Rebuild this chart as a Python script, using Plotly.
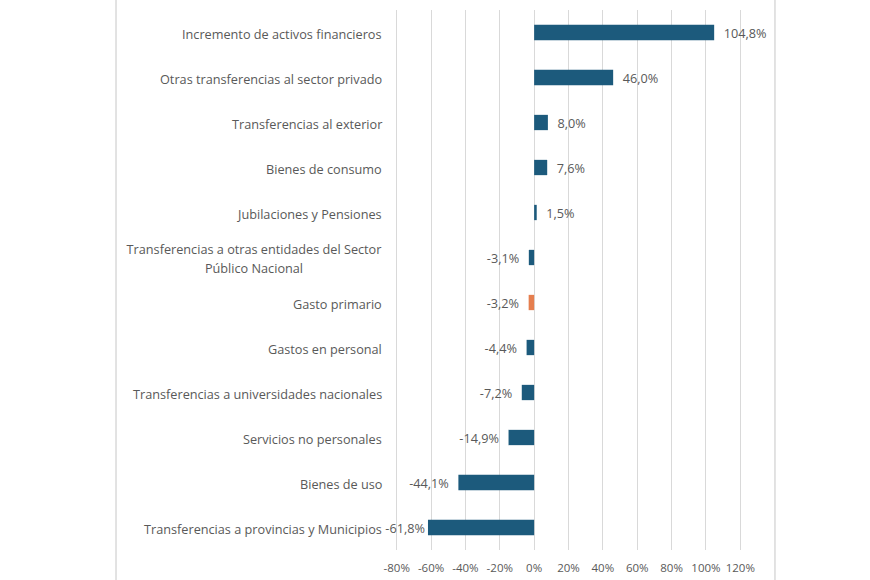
import plotly.graph_objects as go

categories = [
    "Incremento de activos financieros",
    "Otras transferencias al sector privado",
    "Transferencias al exterior",
    "Bienes de consumo",
    "Jubilaciones y Pensiones",
    "Transferencias a otras entidades del Sector<br>Público Nacional",
    "Gasto primario",
    "Gastos en personal",
    "Transferencias a universidades nacionales",
    "Servicios no personales",
    "Bienes de uso",
    "Transferencias a provincias y Municipios",
]
values = [104.8, 46.0, 8.0, 7.6, 1.5, -3.1, -3.2, -4.4, -7.2, -14.9, -44.1, -61.8]
highlight = "Gasto primario"
tick_vals = [-80, -60, -40, -20, 0, 20, 40, 60, 80, 100, 120]
tick_text = [f"{v}%" for v in tick_vals]

BLUE = "#1c5a7c"
ORANGE = "#e57e4e"
TXT = "#595959"
GRID = "#d9d9d9"
FONT = "Open Sans"
FS = 12.7

ids = list(range(len(categories)))
colors = [ORANGE if c == highlight else BLUE for c in categories]
nb = "\u00a0"
# label spacing from bar end (the last label is squeezed against its bar, as in the source)
label_pad = [2, 2, 2, 2, 2, 2, 2, 2, 2, 2, 2, 0]
labels = []
for v, p in zip(values, label_pad):
    s = f"{v:.1f}%".replace(".", ",")
    labels.append(nb * p + s if v >= 0 else s + nb * p)

fig = go.Figure(
    go.Bar(
        x=values,
        y=ids,
        orientation="h",
        marker=dict(color=colors, line=dict(width=0)),
        width=0.34,
        text=labels,
        textposition="outside",
        textfont=dict(family=FONT, size=FS, color=TXT),
        cliponaxis=False,
        constraintext="none",
        hoverinfo="skip",
    )
)

annotations = []
for i, c in zip(ids, categories):
    lines = c.split("<br>")
    if len(lines) == 1:
        annotations.append(
            dict(
                x=0, xref="paper", xanchor="right", xshift=-11,
                y=i, yref="y", yanchor="middle", yshift=-1,
                text=c, showarrow=False, align="right",
                font=dict(family=FONT, size=FS, color=TXT),
            )
        )
    else:
        n = len(lines)
        for k, ln in enumerate(lines):
            annotations.append(
                dict(
                    x=0, xref="paper", xanchor="right", xshift=-11,
                    y=i, yref="y", yanchor="middle",
                    yshift=(n - 1) / 2 * 19 - k * 19 - 1,
                    width=256,
                    text=ln, showarrow=False, align="center",
                    font=dict(family=FONT, size=FS, color=TXT),
                )
            )

fig.update_layout(
    width=870,
    height=580,
    margin=dict(l=395, r=128, t=10, b=30, autoexpand=False),
    paper_bgcolor="white",
    plot_bgcolor="white",
    showlegend=False,
    annotations=annotations,
    shapes=[
        dict(type="line", xref="paper", yref="paper", x0=-0.804, x1=-0.804, y0=-0.1, y1=1.05,
             line=dict(color=GRID, width=1.5)),
        dict(type="line", xref="paper", yref="paper", x0=1.095, x1=1.095, y0=-0.1, y1=1.05,
             line=dict(color=GRID, width=1.5)),
    ],
    xaxis=dict(
        range=[-81, 121],
        tickvals=tick_vals,
        ticktext=tick_text,
        showgrid=True,
        gridcolor=GRID,
        gridwidth=1,
        zeroline=False,
        showline=False,
        ticks="",
        ticklabelstandoff=9,
        automargin=False,
        tickfont=dict(family=FONT, size=11.5, color=TXT),
        fixedrange=True,
    ),
    yaxis=dict(
        range=[len(categories) - 0.5, -0.5],
        showticklabels=False,
        showgrid=False,
        zeroline=False,
        showline=False,
        ticks="",
        automargin=False,
        fixedrange=True,
    ),
)

fig.write_html("out.html")
